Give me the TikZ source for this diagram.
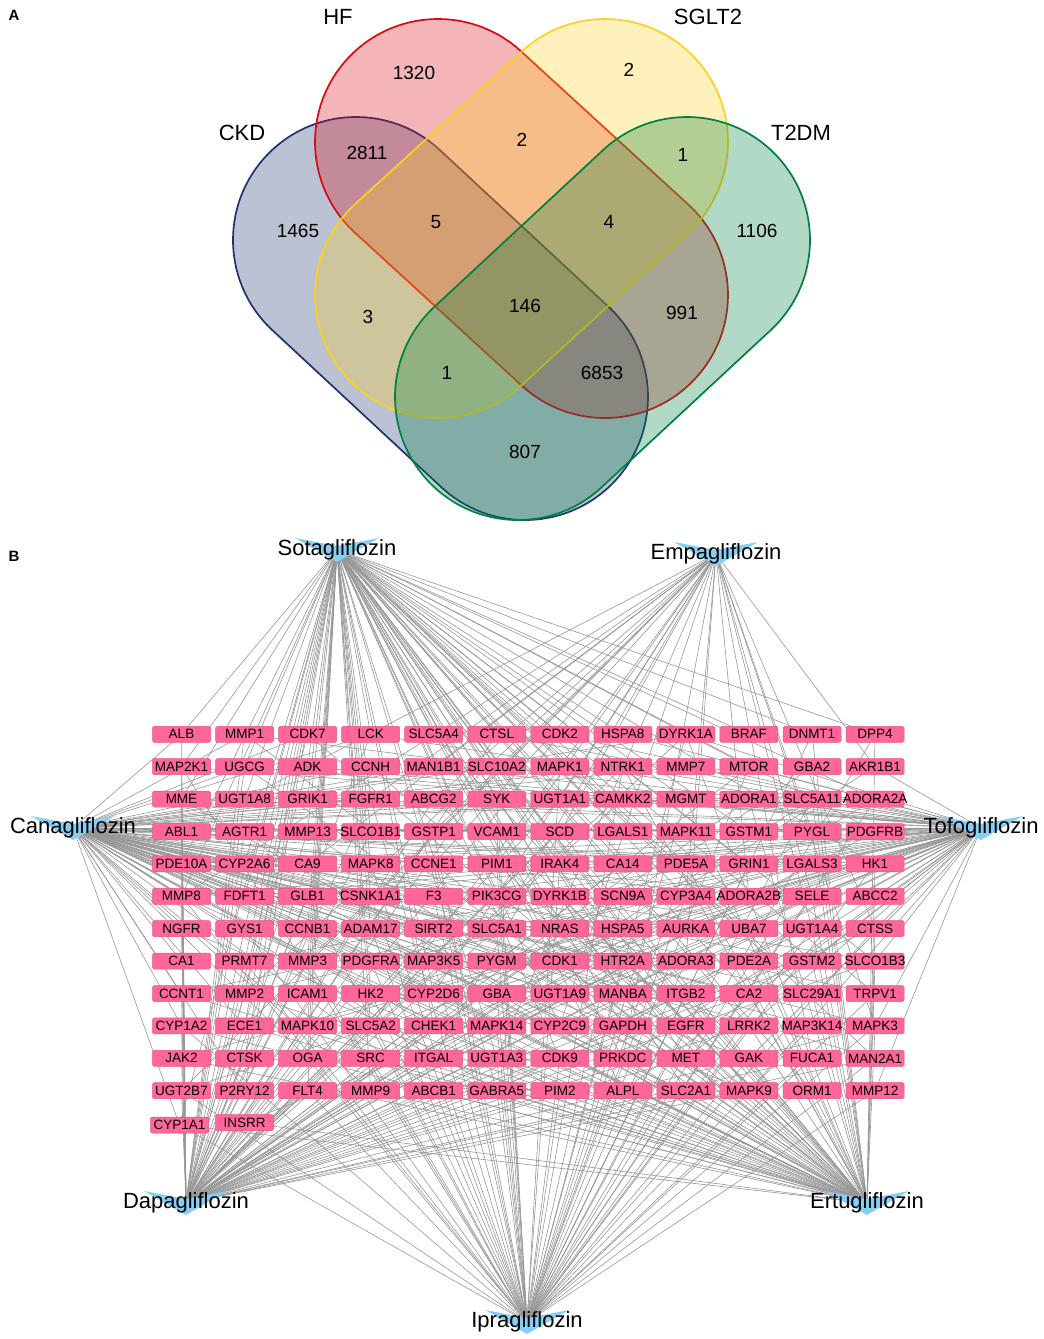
\documentclass[tikz,border=0pt]{standalone}
\usepackage{fontspec}
\setmainfont{Liberation Sans}
\pgfdeclarelayer{edges}
\pgfsetlayers{edges,main}
\definecolor{ckdc}{RGB}{30,52,112}
\definecolor{hfc}{RGB}{215,10,20}
\definecolor{sgltc}{RGB}{255,208,30}
\definecolor{tdmc}{RGB}{0,128,64}
\definecolor{genefill}{RGB}{255,102,153}
\definecolor{genebd}{RGB}{232,82,132}
\definecolor{veeblue}{RGB}{135,206,245}
\definecolor{edgegray}{RGB}{150,150,150}
\begin{document}
\begin{tikzpicture}[x=1pt,y=-1pt,
  gene/.style={draw=genebd, fill=genefill, line width=0.5pt, rounded corners=1.5pt,
    minimum width=58pt, minimum height=16pt, inner sep=0pt, text=black,
    font=\fontsize{13.5}{14}\selectfont},
  edge/.style={draw=edgegray, line width=0.6pt},
  num/.style={font=\fontsize{19}{20}\selectfont, inner sep=0pt},
  setlab/.style={font=\fontsize{22}{24}\selectfont, inner sep=0pt},
  druglab/.style={font=\fontsize{22}{24}\selectfont, inner sep=0pt},
  panel/.style={font=\fontsize{15}{16}\selectfont\bfseries, inner sep=0pt},
  vset/.style={line width=1.7pt, fill opacity=0.3, rounded corners=123pt}]
\useasboundingbox (0,0) rectangle (1044,1339);

% ---------------- Panel A : Venn ----------------
\node[panel] (labA) at (14,15) {A};
\begin{scope}[shift={(356,240)}, rotate=-42.9]
  \draw[vset, draw=ckdc, fill=ckdc] (-123,-123) rectangle (353.7,123);
\end{scope}
\begin{scope}[shift={(438,142)}, rotate=-42.5]
  \draw[vset, draw=hfc, fill=hfc] (-123,-123) rectangle (349.5,123);
\end{scope}
\begin{scope}[shift={(605,142)}, rotate=-137.5]
  \draw[vset, draw=sgltc, fill=sgltc] (-123,-123) rectangle (349.5,123);
\end{scope}
\begin{scope}[shift={(687,240)}, rotate=-137.1]
  \draw[vset, draw=tdmc, fill=tdmc] (-123,-123) rectangle (353.7,123);
\end{scope}

\node[setlab] (lHF) at (338,17) {HF};
\node[setlab] (lSG) at (708,17) {SGLT2};
\node[setlab] (lCKD) at (242,133) {CKD};
\node[setlab] (lT2) at (801,133) {T2DM};

\node[num] (n1320) at (414,73) {1320};
\node[num] (n2811) at (367,153) {2811};
\node[num] (n1465) at (298,231) {1465};
\node[num] (n5) at (436,222) {5};
\node[num] (n3) at (368,317) {3};
\node[num] (n1a) at (447,373) {1};
\node[num] (n146) at (525,306) {146};
\node[num] (n2a) at (522,140) {2};
\node[num] (n2b) at (629,70) {2};
\node[num] (n1b) at (683,155) {1};
\node[num] (n4) at (609,222) {4};
\node[num] (n1106) at (757,231) {1106};
\node[num] (n991) at (682,313) {991};
\node[num] (n6853) at (602,373) {6853};
\node[num] (n807) at (525,452) {807};

% ---------------- Panel B : network ----------------
\node[panel] (labB) at (14,556) {B};
\coordinate (sota) at (337,550);
\coordinate (empa) at (716,554);
\coordinate (cana) at (73,828);
\coordinate (tofo) at (981,828);
\coordinate (dapa) at (186,1203);
\coordinate (ertu) at (867,1203);
\coordinate (ipra) at (527,1322);

\pgfmathsetseed{20240}
\foreach \rw/\names in {
 0/{ALB,MMP1,CDK7,LCK,SLC5A4,CTSL,CDK2,HSPA8,DYRK1A,BRAF,DNMT1,DPP4},
 1/{MAP2K1,UGCG,ADK,CCNH,MAN1B1,SLC10A2,MAPK1,NTRK1,MMP7,MTOR,GBA2,AKR1B1},
 2/{MME,UGT1A8,GRIK1,FGFR1,ABCG2,SYK,UGT1A1,CAMKK2,MGMT,ADORA1,SLC5A11,ADORA2A},
 3/{ABL1,AGTR1,MMP13,SLCO1B1,GSTP1,VCAM1,SCD,LGALS1,MAPK11,GSTM1,PYGL,PDGFRB},
 4/{PDE10A,CYP2A6,CA9,MAPK8,CCNE1,PIM1,IRAK4,CA14,PDE5A,GRIN1,LGALS3,HK1},
 5/{MMP8,FDFT1,GLB1,CSNK1A1,F3,PIK3CG,DYRK1B,SCN9A,CYP3A4,ADORA2B,SELE,ABCC2},
 6/{NGFR,GYS1,CCNB1,ADAM17,SIRT2,SLC5A1,NRAS,HSPA5,AURKA,UBA7,UGT1A4,CTSS},
 7/{CA1,PRMT7,MMP3,PDGFRA,MAP3K5,PYGM,CDK1,HTR2A,ADORA3,PDE2A,GSTM2,SLCO1B3},
 8/{CCNT1,MMP2,ICAM1,HK2,CYP2D6,GBA,UGT1A9,MANBA,ITGB2,CA2,SLC29A1,TRPV1},
 9/{CYP1A2,ECE1,MAPK10,SLC5A2,CHEK1,MAPK14,CYP2C9,GAPDH,EGFR,LRRK2,MAP3K14,MAPK3},
 10/{JAK2,CTSK,OGA,SRC,ITGAL,UGT1A3,CDK9,PRKDC,MET,GAK,FUCA1,MAN2A1},
 11/{UGT2B7,P2RY12,FLT4,MMP9,ABCB1,GABRA5,PIM2,ALPL,SLC2A1,MAPK9,ORM1,MMP12}} {
  \foreach \gname [count=\ci from 0] in \names {
    \node[gene] (\gname) at ({181.5+63.05*\ci},{734.3+32.4*\rw}) {\makebox[0pt]{\gname}};
    \begin{pgfonlayer}{edges}
      \foreach \dr/\pr in {sota/0.62,empa/0.22,cana/0.6,tofo/0.5,dapa/0.55,ertu/0.5,ipra/0.5} {
        \pgfmathsetmacro\rv{rnd}
        \ifdim\rv pt<\pr pt\relax \draw[edge] (\dr) -- (\gname.center);\fi
      }
    \end{pgfonlayer}
  }
}
\foreach \gname/\gx/\gy in {CYP1A1/179.5/1125, INSRR/244.5/1122.5} {
  \node[gene] (\gname) at (\gx,\gy) {\makebox[0pt]{\gname}};
  \begin{pgfonlayer}{edges}
    \foreach \dr/\pr in {sota/0.62,empa/0.22,cana/0.6,tofo/0.5,dapa/0.55,ertu/0.5,ipra/0.5} {
      \pgfmathsetmacro\rv{rnd}
      \ifdim\rv pt<\pr pt\relax \draw[edge] (\dr) -- (\gname.center);\fi
    }
  \end{pgfonlayer}
}

% drug nodes
\foreach \dr/\dname in {sota/Sotagliflozin,empa/Empagliflozin,cana/Canagliflozin,tofo/Tofogliflozin,
                        dapa/Dapagliflozin,ertu/Ertugliflozin,ipra/Ipragliflozin} {
  \fill[veeblue] ([shift={(-42,-12)}]\dr) -- ([shift={(0,-4)}]\dr) -- ([shift={(42,-12)}]\dr)
        -- ([shift={(0,12)}]\dr) -- cycle;
  \node[druglab] (\dr-lab) at (\dr) {\dname};
}
\end{tikzpicture}
\end{document}
